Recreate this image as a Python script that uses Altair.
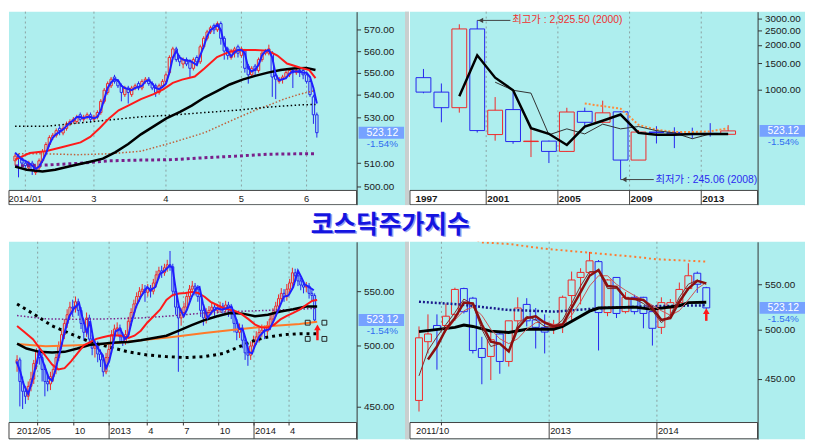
import math
import altair as alt
import pandas as pd

# ---------------------------------------------------------------- texts
TITLE = "코스닥주가지수"
LAST_CLOSE = 523.12
LAST_CHANGE = "-1.54%"
HIGH_NOTE = "최고가 : 2,925.50 (2000)"
LOW_NOTE = "최저가 : 245.06 (2008)"

# ---------------------------------------------------------------- top-left: daily
tl_open = [511, 513, 512, 510, 508, 510, 506, 508, 511, 515,
           518, 521, 522, 525, 523, 525, 527, 528, 528, 531,
           529, 530, 531, 529, 530, 532, 537, 541, 544, 548,
           546, 544, 540, 543, 540, 543, 545, 543, 546, 547,
           545, 544, 541, 544, 546, 550, 557, 561, 557, 554,
           556, 555, 552, 557, 555, 562, 566, 569, 572, 570,
           573, 566, 561, 557, 559, 562, 558, 560, 553, 549,
           553, 551, 556, 559, 559, 559, 549, 546, 547, 548,
           549, 551, 550, 551, 551, 549, 546, 539, 531]
tl_close = [513, 512, 510, 509, 510, 507, 508, 511, 515, 518,
            521, 522, 524, 524, 525, 527, 528, 529, 530, 529,
            530, 531, 529, 530, 532, 537, 542, 545, 547, 546,
            544, 541, 543, 541, 543, 544, 543, 546, 547, 545,
            543, 541, 544, 546, 549, 557, 561, 556, 555, 556,
            554, 552, 556, 555, 562, 566, 569, 571, 570, 573,
            566, 560, 558, 560, 561, 559, 561, 552, 549, 552,
            551, 556, 559, 560, 561, 548, 547, 547, 548, 550,
            551, 550, 551, 550, 549, 546, 540, 531, 523.12]
tl_high = [514, 514, 513, 511, 511, 511, 509, 512, 516, 519,
           522, 523, 525, 526, 526, 528, 529, 530, 531, 532,
           531, 532, 532, 531, 533, 538, 543, 546, 548, 549,
           547, 545, 544, 544, 544, 545, 546, 547, 548, 548,
           546, 545, 545, 547, 550, 558, 562, 562, 558, 557,
           557, 556, 557, 558, 563, 567, 570, 572, 573, 574,
           574, 567, 562, 561, 562, 563, 562, 561, 554, 553,
           554, 557, 560, 561, 563, 560, 550, 548, 549, 551,
           552, 552, 552, 552, 552, 550, 547, 540, 532]
tl_low = [509, 504, 509, 508, 507, 505, 505, 507, 510, 514,
          517, 520, 521, 522, 522, 524, 526, 527, 527, 528,
          528, 529, 528, 528, 529, 531, 536, 540, 543, 545,
          543, 537, 539, 536, 539, 542, 542, 542, 545, 544,
          542, 539, 540, 543, 545, 549, 556, 555, 553, 552,
          553, 548, 551, 553, 554, 561, 565, 568, 568, 569,
          563, 556, 556, 556, 557, 557, 557, 550, 545, 548,
          549, 550, 555, 558, 558, 539, 538, 545, 545, 547,
          548, 543, 549, 548, 547, 545, 539, 527, 521]
tl_ma5 = [514.5, 513, 511.5, 511, 510, 509, 507.5, 508.5, 511, 514,
          518, 521, 522.5, 523.5, 524.5, 526, 527.5, 528.5, 530, 530,
          529.5, 530, 530, 529.5, 530, 533, 538, 543, 545.5, 547,
          546.5, 544, 543, 542.5, 542, 543, 543.5, 544, 546, 546.5,
          545, 543, 542.5, 543.5, 545, 550, 557, 560, 557, 556,
          555.5, 555.5, 554.5, 553.5, 558, 562, 567, 570, 571, 572.5,
          570, 563, 560, 557.5, 559.5, 560.5, 560.5, 559, 552, 550.5,
          551.5, 553.5, 558, 560, 560.5, 557, 549, 546.5, 547, 547.5,
          549.5, 550.5, 550.5, 550.5, 550, 550, 548, 543, 536]
tl_ma20_x = [0, 4.3, 8.9, 13.6, 19.1, 21.9, 24.7, 27.4, 30.2, 33, 36.7, 40.4, 43.2, 46,
             48.7, 52.4, 55.2, 58.9, 62.6, 66.3, 70, 73.7, 76.5, 79.3, 83, 85.8, 87.6]
tl_ma20_v = [511.5, 514.3, 515.1, 516.8, 518.9, 521.3, 525.2, 529.4, 533.0, 535.1, 538.0,
             540.2, 542.4, 545.3, 546.8, 548.2, 551.9, 557.2, 559.7, 560.5, 560.5, 560.2,
             557.9, 554.2, 552.4, 551.2, 547.5]
tl_ma60_x = [0, 3.4, 8, 11.7, 16.3, 21.9, 25.6, 29.3, 33, 36.7, 40.4, 44.1, 48.1, 51.5,
             55.2, 58.9, 62.6, 66.3, 70, 73.7, 77.4, 81.1, 84.9, 87.6]
tl_ma60_v = [508.5, 507.2, 506.5, 507.2, 508.8, 510.6, 511.9, 514.7, 518.2, 522.4, 525.9,
             529.4, 532.3, 535.1, 538.7, 541.6, 544.6, 546.8, 548.5, 550.0, 551.2, 551.9,
             552.2, 551.2]
tl_dot_x = [0, 8.9, 18.2, 27.4, 36.7, 46, 55.2, 64.5, 73.7, 83, 87.6]
tl_dotk_v = [525.9, 525.9, 527.3, 528.7, 530.1, 530.9, 532.0, 533.0, 534.4, 535.4, 535.6]
tl_purple_v = [508.8, 509.2, 509.9, 511.0, 511.3, 511.5, 512.3, 513.0, 513.8, 514.0, 514.0]
tl_brown_x = [0, 8.9, 18.2, 27.4, 36.7, 46, 55.2, 64.5, 70, 73.7, 78.4, 83, 87.6]
tl_brown_v = [514.0, 514.0, 513.6, 514.0, 515.1, 518.9, 523.1, 529.4, 533.0, 535.1, 538.0,
              540.2, 541.9]
tl_tick_pos = [3, 23, 44, 66, 85]
tl_tick_lab = ["2014/01", "3", "4", "5", "6"]
tl_yticks = [500, 510, 530, 540, 550, 560, 570]

# ---------------------------------------------------------------- top-right: yearly
tr_year = list(range(1997, 2015))
tr_open = [1199, 957, 751, 2561, 494, 729, 443, 446, 380, 709, 598, 704, 332, 513.6,
           510.7, 500.2, 503, 496]
tr_high = [1373, 1095, 2752, 2925.5, 886, 957, 538, 450, 750, 752, 838, 710, 530, 563,
           553, 550, 590, 572]
tr_low = [940, 598, 695, 510, 449, 428, 348, 317, 378, 555, 590, 245.06, 332, 430, 400,
          465, 478, 494]
tr_close = [957, 751, 2561, 525.8, 722, 443, 446, 380, 702, 598, 693, 332, 513.6, 510.7,
            500.2, 496.3, 500, 523.12]
tr_ma3_x = list(range(1999, 2015))
tr_ma3_v = [899, 1698, 1199, 985, 546, 500, 420, 560, 613, 675, 507, 492, 492, 499, 499, 499]
tr_ma5_x = list(range(2001, 2015))
tr_ma5_v = [1117, 985, 942, 492, 540, 499, 581, 540, 560, 525, 507, 463, 499, 499]
tr_ma10_x = list(range(2006, 2015))
tr_ma10_v = [801, 770, 739, 575, 533, 514, 514, 519, 546]
tr_tick_pos = [1996.5, 2000.5, 2004.5, 2008.5, 2012.5]
tr_tick_lab = ["1997", "2001", "2005", "2009", "2013"]
tr_yticks = [1000, 1500, 2000, 2500, 3000]

# ---------------------------------------------------------------- bottom-left: weekly
bl_open = [485, 488, 470, 462, 458, 466, 472, 485, 495, 490,
           480, 470, 468, 474, 480, 490, 500, 510, 520, 528,
           535, 534, 540, 532, 520, 512, 525, 506, 498, 500,
           493, 488, 478, 490, 497, 510, 515, 516, 508, 504,
           510, 522, 530, 538, 545, 550, 552, 549, 553, 550,
           558, 566, 570, 568, 573, 576, 574, 550, 535, 525,
           530, 535, 545, 552, 555, 552, 545, 532, 525, 530,
           532, 535, 532, 534, 536, 534, 537, 535, 530, 520,
           512, 516, 505, 494, 492, 500, 505, 508, 512, 514,
           513, 518, 524, 530, 536, 543, 548, 545, 552, 558,
           568, 565, 560, 556, 554, 555, 548, 546]
bl_close = [488, 470, 462, 458, 466, 472, 485, 495, 490, 480,
            470, 468, 474, 480, 490, 500, 510, 520, 528, 535,
            534, 540, 532, 520, 512, 525, 506, 498, 500, 493,
            488, 478, 490, 497, 510, 515, 516, 508, 504, 510,
            522, 530, 538, 545, 550, 552, 549, 553, 550, 558,
            566, 570, 568, 573, 576, 574, 550, 535, 525, 530,
            535, 545, 552, 555, 552, 545, 532, 525, 530, 532,
            535, 532, 534, 536, 534, 537, 535, 530, 520, 512,
            516, 505, 494, 492, 500, 505, 508, 512, 514, 513,
            518, 524, 530, 536, 543, 548, 545, 552, 558, 568,
            565, 560, 556, 554, 555, 548, 546, 523.12]
bl_high = [492, 490, 474, 466, 470, 478, 488, 498, 500, 494,
           484, 476, 478, 484, 493, 504, 514, 524, 533, 540,
           542, 545, 543, 535, 524, 530, 528, 510, 505, 504,
           497, 492, 494, 502, 514, 519, 521, 519, 512, 514,
           526, 534, 542, 549, 554, 557, 556, 557, 556, 562,
           570, 574, 575, 577, 581, 590, 577, 553, 538, 534,
           539, 549, 556, 560, 558, 556, 548, 535, 534, 536,
           539, 538, 538, 540, 539, 541, 540, 538, 533, 524,
           520, 519, 508, 498, 504, 509, 513, 516, 519, 518,
           522, 528, 534, 540, 547, 553, 552, 557, 562, 573,
           572, 569, 563, 560, 559, 558, 551, 548]
bl_low = [478, 450, 448, 452, 455, 462, 468, 480, 484, 470,
          458, 462, 463, 470, 476, 487, 497, 506, 516, 524,
          526, 530, 527, 515, 505, 508, 500, 492, 490, 486,
          482, 474, 476, 486, 494, 506, 510, 503, 500, 501,
          507, 518, 526, 534, 540, 546, 540, 545, 544, 547,
          554, 562, 563, 565, 569, 570, 545, 528, 478, 518,
          526, 532, 541, 548, 546, 540, 526, 518, 520, 526,
          528, 527, 529, 530, 529, 530, 526, 524, 512, 505,
          507, 498, 488, 483, 488, 496, 501, 503, 508, 506,
          509, 514, 520, 526, 532, 539, 540, 541, 548, 554,
          559, 555, 551, 548, 549, 543, 540, 521]
bl_ma_x = [-0.2, 1.1, 2.3, 4.0, 5.1, 6.3, 8.0, 9.7, 11.4, 12.6,
           13.7, 15.4, 17.1, 18.8, 20.5, 22.3, 23.4, 25.1, 26.3, 27.4,
           29.1, 30.8, 32.0, 33.1, 34.2, 35.4, 37.1, 38.8, 40.0, 41.1,
           42.8, 44.5, 46.8, 47.9, 49.7, 51.4, 53.1, 54.8, 55.9, 57.1,
           58.2, 59.9, 61.1, 62.8, 64.5, 65.6, 66.8, 68.5, 70.2, 71.9,
           73.6, 75.3, 77.1, 78.8, 79.9, 81.1, 82.2, 83.3, 84.5, 85.6,
           87.3, 89.0, 90.8, 92.5, 94.2, 95.9, 97.6, 99.3, 101.0, 102.2,
           103.3, 105.0, 106.7]
bl_ma_v = [486.7, 478.6, 468, 460, 468, 478.6, 495, 484, 473, 470.6,
           478.6, 495, 512, 526.6, 534, 538.7, 526.6, 512, 522, 506,
           497.8, 492, 481, 486.7, 497.8, 513, 515, 506, 509, 520.7,
           535.6, 544.8, 554, 551, 554, 566.8, 570, 575, 573, 551,
           535.6, 526.6, 532.6, 544.8, 553, 554, 538.7, 525, 531, 534,
           532.6, 534, 535.6, 523.7, 514.9, 514.9, 506.2, 494.9, 493.5, 500.6,
           509, 513.5, 514.9, 523.7, 534, 544.8, 546, 554, 570, 563.6,
           557, 554, 551]
bl_red_x = [0, 2.3, 5.7, 9.1, 12.6, 14.8, 17.1, 19.4, 21.7, 24, 26.3, 28.5, 30.8, 33.1,
            35.4, 37.7, 40, 42.2, 44.5, 46.8, 49.1, 51.4, 53.7, 55.9, 58.2, 60.5, 62.8,
            65.1, 67.4, 69.6, 71.9, 74.2, 76.5, 78.8, 81, 83.3, 85.6, 87.9, 90.2, 92.5,
            94.7, 97, 99.3, 101.6, 103.9, 106.2, 107.9]
bl_red_v = [517.8, 513, 506, 495, 484, 480, 481, 486.7, 493.5, 500.6, 503.4, 506.2, 507.6,
            509, 509.5, 509, 507, 509, 513.5, 520.7, 526.6, 532.6, 541.7, 546.4, 547.9,
            548.4, 549.4, 548.4, 544.8, 540, 537, 534, 532.6, 531, 528, 523.7, 519, 516.4,
            516.4, 519, 523.7, 527, 529.6, 532.6, 537, 541, 541.7]
bl_black_x = [0, 3.4, 8.0, 12.6, 17.1, 21.7, 26.3, 30.8, 35.4, 40, 44.5, 49.1, 53.7, 58.2,
              62.8, 67.4, 71.9, 76.5, 81.1, 85.6, 90.2, 94.7, 99.3, 103.9, 107.9]
bl_black_v = [502, 497.8, 494.9, 494.3, 494.9, 497.8, 501, 502, 503, 503.4, 505, 507, 509,
              513.5, 518.4, 523, 526.6, 529.6, 529, 526.6, 528, 531, 533, 535.6, 535.6]
bl_slow_x = [0, 10.3, 21.7, 33.1, 44.5, 55.9, 67.4, 78.8, 90.2, 101.6, 107.9]
bl_orange_v = [501.7, 499.7, 500.6, 502, 505, 507.9, 511.4, 514.6, 517.5, 519.5, 521.6]
bl_purple_v = [527.2, 524.2, 523.7, 524.2, 525, 527, 529.6, 531, 532, 533, 534]
bl_dotk_x = [0, 5.7, 12.6, 19.4, 26.3, 33.1, 40, 46.8, 53.7, 60.5, 67.4, 74.2, 81.1, 85.6,
             90.2, 95.9, 101.6, 107.9]
bl_dotk_v = [538, 529, 517.8, 510.6, 503.4, 499.1, 494.9, 492.2, 490.8, 490, 490.8, 493.5,
             500.6, 505, 507.9, 509.9, 510.8, 510.8]
bl_sq_x = [104.5, 110.5, 104.5, 110.5]
bl_sq_v = [520.7, 520.7, 506.2, 506.2]
bl_arrow = (108, 505, 516.5)
bl_grid = [7.4, 20.4, 33.1, 46.8, 59.8, 72.5, 85.2, 97.8]
bl_years = [33.1, 85.2]
bl_tick_pos = [-0.45, 20.4, 33.1, 46.8, 59.8, 72.5, 85.2, 97.8]
bl_tick_lab = ["2012/05", "10", "2013", "4", "7", "10", "2014", "4"]
bl_yticks = [450, 500, 550]

# ---------------------------------------------------------------- bottom-right: monthly
br_open = [430, 487, 504, 504, 516, 545, 534, 480, 472, 495, 467, 509, 527, 510, 502,
           502, 505, 537, 558, 564, 577, 518, 558, 519, 535, 535, 519, 502, 523, 529,
           545, 563, 546]
br_high = [503, 516, 516, 528, 546, 546, 535.5, 492, 497, 498, 509, 535, 534, 523, 516,
           510, 537, 565, 569, 589, 579, 556, 558, 541, 538, 535.5, 520, 535, 533, 552,
           575, 565, 547]
br_low = [420, 475, 459, 502, 509, 517, 475, 445, 449, 455, 462, 500, 503, 480, 475,
          495, 496, 510, 527, 560, 478, 514, 512, 517, 516, 501, 483, 495, 512, 526,
          543, 540, 522]
br_close = [491, 495, 500, 514, 544, 519, 478, 471, 489, 467, 509, 523, 509, 502, 497,
            505, 535, 555, 564, 578, 518, 555, 517, 535, 519, 517, 501, 529, 529, 544,
            560, 550, 523.12]
br_thin_v = [453, 478, 492, 505, 518, 533, 527, 500, 482, 485, 478, 505, 514, 510, 503,
             502, 510, 528, 548, 565, 565, 545, 545, 533, 533, 528, 520, 507, 515, 535,
             550, 555, 550]
br_thick_v = [469, 482, 500, 512, 529, 528, 505, 487, 485, 477, 501, 512, 514, 507, 503,
              505, 523, 541, 560, 567, 548, 547, 534, 533, 532, 523, 510, 512, 530, 545,
              554, 551]
br_light_v = [485, 498, 510, 520, 524, 515, 500, 490, 485, 490, 500, 507, 508, 505, 506,
              515, 530, 548, 560, 560, 550, 543, 537, 532, 526, 520, 515, 520, 532, 545,
              552]
br_navy_x = [0, 4.5, 9.8, 15.1, 20.4, 25.7, 32]
br_navy_v = [530, 527, 521, 519, 523, 525, 526]
br_black_x = [0, 4, 5, 6, 8, 10, 12, 15, 16, 19, 20, 24, 26, 29, 30, 32]
br_black_v = [497.5, 502, 504.5, 503, 498, 496.5, 500, 500, 503, 519.5, 523, 524, 521.5,
              525.5, 529, 529.5]
br_orange_x = [6, 7, 10, 14, 19, 24, 26.4, 32]
br_orange_v = [606, 601, 599, 593, 588, 583, 580, 577]
br_arrow = (32, 509, 519.5)
br_grid = [2.5, 14.5, 26.5]
br_years = [14.5, 26.5]
br_tick_pos = [-0.45, 14.5, 26.5]
br_tick_lab = ["2011/10", "2013", "2014"]
br_yticks = [450, 500, 550]

# ---------------------------------------------------------------- style
BG = "#AEEEEE"
RED = "#F02828"
BLUE = "#2424EE"
AX = "#333333"
FONT = "Liberation Sans, Arial, sans-serif"
KFONT = "Liberation Sans, Noto Sans CJK KR, sans-serif"
CSCALE = alt.Scale(domain=["up", "down"], range=[RED, BLUE])
ONE = pd.DataFrame({"k": [0]})


def lin_dom(a1, p1, a2, p2, W):
    k = (p2 - p1) / (a2 - a1)
    return [a1 - p1 / k, a1 + (W - p1) / k]


def log_dom(v1, p1, v2, p2, H):
    k = (p2 - p1) / (math.log(v1) - math.log(v2))
    return [math.exp(math.log(v1) - (H - p1) / k), math.exp(math.log(v1) + p1 / k)]


def candle_df(xs, o, h, l, c):
    return pd.DataFrame({"x": xs, "open": o, "high": h, "low": l, "close": c,
                         "dir": ["up" if cc >= oo else "down" for oo, cc in zip(o, c)]})


def make_panel(W, Wp, H, Hp, xdom, ydom, yvals, cdf, bw, lines, grid_x, tick_x, year_x,
               lab_x, lab_t, lab_align, lab_size, lab_weight, extras=None, sep=False):
    xs_scale = alt.Scale(domain=xdom, nice=False, zero=False)

    def XF(f):
        return alt.X(f + ":Q", scale=xs_scale, axis=None)

    X = XF("x")
    ys = alt.Scale(type="log", domain=ydom, nice=False)
    yax = alt.Axis(orient="right", offset=Wp - W, values=yvals, format=".2f", title=None,
                   grid=False, labelFont=FONT, labelFontSize=10, labelColor="#1a1a1a",
                   labelPadding=3, labelOverlap=False, tickSize=4, tickColor=AX,
                   domainColor=AX, zindex=1)

    def Y(f):
        return alt.Y(f + ":Q", scale=ys, axis=yax)

    layers = []
    if grid_x:
        layers.append(alt.Chart(pd.DataFrame({"x": grid_x})).mark_rule(
            color="#8AA0A0", strokeDash=[2, 3], strokeWidth=1).encode(
            x=X, y=alt.value(0), y2=alt.value(Hp)))
    layers.append(alt.Chart(cdf).mark_rule(strokeWidth=1).encode(
        x=X, y=Y("low"), y2=alt.Y2("high:Q"),
        color=alt.Color("dir:N", scale=CSCALE, legend=None)))
    layers.append(alt.Chart(cdf).mark_bar(size=bw, fill=BG, strokeWidth=1).encode(
        x=X, y=Y("open"), y2=alt.Y2("close:Q"),
        stroke=alt.Stroke("dir:N", scale=CSCALE, legend=None)))
    for xs, vs, col, wd, dash in lines:
        kw = dict(color=col, strokeWidth=wd, clip=True)
        if dash:
            kw["strokeDash"] = dash
        layers.append(alt.Chart(pd.DataFrame({"x": xs, "v": vs})).mark_line(**kw).encode(
            x=X, y=Y("v")))
    if extras:
        layers.extend(extras(XF, Y))
    # x-axis strip
    layers.append(alt.Chart(ONE).mark_rect(fill="white", stroke="#404040", strokeWidth=1).encode(
        x=alt.value(0), x2=alt.value(Wp), y=alt.value(Hp), y2=alt.value(H - 0.5)))
    if tick_x:
        layers.append(alt.Chart(pd.DataFrame({"x": tick_x})).mark_rule(
            color=AX, strokeWidth=1).encode(x=X, y=alt.value(Hp), y2=alt.value(Hp + 3)))
    if year_x:
        layers.append(alt.Chart(pd.DataFrame({"x": year_x})).mark_rule(
            color="#404040", strokeWidth=1).encode(x=X, y=alt.value(Hp), y2=alt.value(H - 0.5)))
    layers.append(alt.Chart(pd.DataFrame({"x": lab_x, "t": lab_t})).mark_text(
        align=lab_align, baseline="middle", font=FONT, fontSize=lab_size,
        fontWeight=lab_weight, color="#1a1a1a", clip=True,
        dx=(1 if lab_align == "left" else 0)).encode(
        x=X, y=alt.value(Hp + 9), text="t:N"))
    # last value box
    last = pd.DataFrame({"v": [LAST_CLOSE], "p": [LAST_CHANGE]})
    layers.append(alt.Chart(last).mark_rect(color="#76A2FF", yOffset=-6, y2Offset=6).encode(
        x=alt.value(Wp + 2), x2=alt.value(Wp + 48), y=Y("v"), y2=alt.Y2("v:Q")))
    layers.append(alt.Chart(last).mark_text(
        color="white", font=FONT, fontSize=10.5, align="center", baseline="middle").encode(
        x=alt.value(Wp + 26), y=Y("v"), text=alt.Text("v:Q", format=".2f")))
    layers.append(alt.Chart(last).mark_text(
        color="#2F6CF0", font=FONT, fontSize=10, align="center", baseline="middle",
        dy=11.5).encode(x=alt.value(Wp + 26), y=Y("v"), text="p:N"))
    if sep:
        layers.append(alt.Chart(ONE).mark_rect(color="#C9CFCF").encode(
            x=alt.value(W - 4), x2=alt.value(W), y=alt.value(0), y2=alt.value(H)))
    return alt.layer(*layers).properties(width=W, height=H)


# ---------------------------------------------------------------- panels
tl = make_panel(
    405, 352, 196, 181,
    lin_dom(0, 1.19, 88, 314.5, 405), log_dom(570, 18.4, 500, 177.4, 196), tl_yticks,
    candle_df(list(range(len(tl_close))), tl_open, tl_high, tl_low, tl_close), 2.4,
    [
        (tl_dot_x, tl_purple_v, "#7A1F8A", 3, [3, 3]),
        (tl_brown_x, tl_brown_v, "#C0603A", 1.5, [1.5, 2]),
        (tl_dot_x, tl_dotk_v, "#000000", 1.5, [1.5, 2.5]),
        (tl_ma60_x, tl_ma60_v, "#000000", 2.5, None),
        (tl_ma20_x, tl_ma20_v, "#FF1A1A", 2, None),
        (list(range(len(tl_ma5))), tl_ma5, "#1F1FFF", 2, None),
    ],
    tl_tick_pos, [], [], tl_tick_pos, tl_tick_lab, "center", 9.5, "normal", sep=True)


def tr_extras(XF, Y):
    hi_i = tr_high.index(max(tr_high))
    lo_i = tr_low.index(min(tr_low))
    hx, hv = tr_year[hi_i], tr_high[hi_i]
    lx, lv = tr_year[lo_i], tr_low[lo_i]
    out = []
    for x0, v, note, col in [(hx, hv, HIGH_NOTE, "#F03030"), (lx, lv, LOW_NOTE, "#2A2AF0")]:
        d = pd.DataFrame({"x": [x0], "x2": [x0 + 1.85], "xt": [x0 + 1.95], "xa": [x0 + 0.2],
                          "v": [v], "t": [note]})
        base = alt.Chart(d)
        out.append(base.mark_rule(color="#404040", strokeWidth=1).encode(
            x=XF("x"), x2=alt.X2("x2:Q"), y=Y("v")))
        out.append(base.mark_point(shape="triangle-left", filled=True, size=30,
                                   color="#404040", opacity=1).encode(
            x=XF("xa"), y=Y("v")))
        out.append(base.mark_text(align="left", baseline="middle", font=KFONT, fontSize=10.5,
                                  color=col).encode(
            x=XF("xt"), y=Y("v"), text="t:N"))
    return out


tr = make_panel(
    400, 352, 196, 181,
    lin_dom(1997, 8.9, 2014, 325.3, 400), log_dom(3000, 7.2, 1000, 78.6, 196), tr_yticks,
    candle_df(tr_year, tr_open, tr_high, tr_low, tr_close), 15,
    [
        (tr_ma10_x, tr_ma10_v, "#FF8C3A", 2, [2, 2]),
        (tr_ma5_x, tr_ma5_v, "#303030", 1, None),
        (tr_ma3_x, tr_ma3_v, "#000000", 2.5, None),
    ],
    tr_tick_pos[1:], [], tr_tick_pos[1:], tr_tick_pos, tr_tick_lab, "left", 10, "bold",
    extras=tr_extras)


def bl_extras(XF, Y):
    sq = pd.DataFrame({"x": bl_sq_x, "v": bl_sq_v})
    ax, a0, a1 = bl_arrow
    ar = pd.DataFrame({"x": [ax], "v": [a0], "v2": [a1 - 2], "vt": [a1]})
    return [
        alt.Chart(sq).mark_point(shape="square", filled=False, size=24, color="#222222",
                                 strokeWidth=1, opacity=1).encode(x=XF("x"), y=Y("v")),
        alt.Chart(ar).mark_rule(color="#FF1A1A", strokeWidth=2.5).encode(
            x=XF("x"), y=Y("v"), y2=alt.Y2("v2:Q")),
        alt.Chart(ar).mark_point(shape="triangle-up", filled=True, size=45, color="#FF1A1A",
                                 opacity=1).encode(x=XF("x"), y=Y("vt")),
    ]


bl = make_panel(
    405, 352, 200, 183,
    lin_dom(0, 3.26, 107, 312.2, 405), log_dom(550, 50.1, 450, 166.7, 200), bl_yticks,
    candle_df(list(range(len(bl_close))), bl_open, bl_high, bl_low, bl_close), 2.0,
    [
        (bl_slow_x, bl_purple_v, "#7A1F8A", 1.5, [1.5, 2]),
        (bl_dotk_x, bl_dotk_v, "#000000", 3, [3, 4]),
        (bl_slow_x, bl_orange_v, "#FF7A2A", 2, None),
        (bl_black_x, bl_black_v, "#000000", 2.5, None),
        (bl_red_x, bl_red_v, "#FF1A1A", 2, None),
        (bl_ma_x, bl_ma_v, "#1F1FFF", 2, None),
    ],
    bl_grid, bl_grid, bl_years, bl_tick_pos, bl_tick_lab, "left", 9.5, "normal",
    extras=bl_extras, sep=True)


def br_extras(XF, Y):
    ax, a0, a1 = br_arrow
    ar = pd.DataFrame({"x": [ax], "v": [a0], "v2": [a1 - 2], "vt": [a1]})
    return [
        alt.Chart(ar).mark_rule(color="#FF1A1A", strokeWidth=2.5).encode(
            x=XF("x"), y=Y("v"), y2=alt.Y2("v2:Q")),
        alt.Chart(ar).mark_point(shape="triangle-up", filled=True, size=45, color="#FF1A1A",
                                 opacity=1).encode(x=XF("x"), y=Y("vt")),
    ]


br = make_panel(
    400, 352, 200, 183,
    lin_dom(0, 4.25, 32, 302.6, 400), log_dom(550, 43.0, 450, 138.9, 200), br_yticks,
    candle_df(list(range(len(br_close))), br_open, br_high, br_low, br_close), 7,
    [
        (br_orange_x, br_orange_v, "#FF7A30", 2, [2, 3]),
        (br_navy_x, br_navy_v, "#1A1A8C", 2.5, [2, 2]),
        (br_black_x, br_black_v, "#000000", 3, None),
        (list(range(2, 33)), br_light_v, "#D05050", 1, None),
        (list(range(0, 33)), br_thin_v, "#7A2A2A", 1, None),
        (list(range(1, 33)), br_thick_v, "#8B1010", 2.5, None),
    ],
    br_grid, br_grid[:1], br_years, br_tick_pos, br_tick_lab, "left", 9.5, "normal",
    extras=br_extras)

tdf = pd.DataFrame({"t": [TITLE]})
title_chart = alt.layer(
    alt.Chart(tdf).mark_text(font="Noto Sans CJK KR", fontSize=25, fontWeight="bold",
                             color="#9A9AF2", align="center", baseline="middle",
                             dx=1.5, dy=1.5).encode(
        x=alt.value(386), y=alt.value(20), text="t:N"),
    alt.Chart(tdf).mark_text(font="Noto Sans CJK KR", fontSize=25, fontWeight="bold",
                             color="#1414E0", align="center", baseline="middle").encode(
        x=alt.value(386), y=alt.value(20), text="t:N"),
).properties(width=805, height=36, view=alt.ViewBackground(fill="white", strokeWidth=0))

row1 = alt.hconcat(tl, tr, spacing=0)
row2 = alt.hconcat(bl, br, spacing=0)
chart = alt.vconcat(row1, title_chart, row2, spacing=0).properties(
    padding=0, background="white").configure_view(fill=BG, strokeWidth=0)

chart.save("out.html", embed_options={"renderer": "svg", "actions": False})
